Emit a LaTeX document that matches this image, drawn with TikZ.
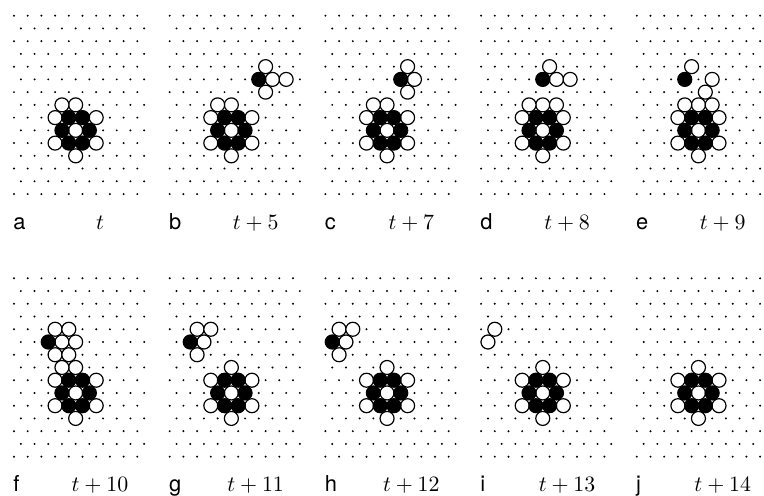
\documentclass[tikz,border=0pt]{standalone}
\usepackage{fontspec}
\newfontfamily\tagfont{TeX Gyre Heros}
\tikzset{
  cell/.style={x=3.425pt,y=-6.37pt},
  wht/.style={draw,fill=white,line width=0.6pt},
  blk/.style={draw,fill=black,line width=0.6pt},
  tag/.style={inner sep=0pt,anchor=base west,font=\fontsize{10.95}{13}\selectfont\tagfont},
  tm/.style={inner sep=0pt,anchor=base,font=\fontsize{10.95}{13}\selectfont}
}
\newcommand{\wc}[1]{\foreach \p in {#1}{\draw[wht] \p circle[radius=3.5pt];}}
\newcommand{\bc}[1]{\foreach \p in {#1}{\draw[blk] \p circle[radius=3.5pt];}}
\newcommand{\lattice}{%
  \foreach \r in {1,3,...,15}{\foreach \k in {0,2,...,18}{\fill (\k,\r) circle[radius=0.55pt];}}%
  \foreach \r in {2,4,...,14}{\foreach \k in {1,3,...,19}{\fill (\k,\r) circle[radius=0.55pt];}}%
  \wc{(9,10),(9,8),(6,9),(12,9),(6,11),(12,11),(9,12)}%
  \bc{(8,9),(10,9),(7,10),(11,10),(8,11),(10,11)}%
}

\begin{document}
\begin{tikzpicture}
    \useasboundingbox (0,0) rectangle (382pt,-248pt);
    \begin{scope}[xshift=7pt,yshift=-1.48pt,cell]
      \lattice
      \wc{(7,8)}
      \node[tag] (la) at (-0.15,17.77) {a};
      \node[tm] (ta) at (12.55,17.77) {$t$};
    \end{scope}
    \begin{scope}[xshift=84.85pt,yshift=-1.48pt,cell]
      \lattice
      \wc{(7,8),(14,5),(15,6),(17,6),(14,7)}
      \bc{(13,6)}
      \node[tag] (lb) at (-0.15,17.77) {b};
      \node[tm] (tb) at (12.55,17.77) {$t+5$};
    \end{scope}
    \begin{scope}[xshift=162.7pt,yshift=-1.48pt,cell]
      \lattice
      \wc{(7,8),(12,5),(13,6),(12,7)}
      \bc{(11,6)}
      \node[tag] (lc) at (-0.15,17.77) {c};
      \node[tm] (tc) at (12.55,17.77) {$t+7$};
    \end{scope}
    \begin{scope}[xshift=240.55pt,yshift=-1.48pt,cell]
      \lattice
      \wc{(7,8),(11,8),(10,5),(11,6),(13,6)}
      \bc{(9,6)}
      \node[tag] (ld) at (-0.15,17.77) {d};
      \node[tm] (td) at (12.55,17.77) {$t+8$};
    \end{scope}
    \begin{scope}[xshift=318.4pt,yshift=-1.48pt,cell]
      \lattice
      \wc{(7,8),(11,8),(8,5),(11,6),(10,7)}
      \bc{(7,6)}
      \node[tag] (le) at (-0.15,17.77) {e};
      \node[tm] (te) at (12.55,17.77) {$t+9$};
    \end{scope}
    \begin{scope}[xshift=7pt,yshift=-132.78pt,cell]
      \lattice
      \wc{(7,8),(6,5),(8,5),(7,6),(9,6),(6,7),(8,7)}
      \bc{(5,6)}
      \node[tag] (lf) at (-0.15,17.77) {f};
      \node[tm] (tf) at (12.55,17.77) {$t+10$};
    \end{scope}
    \begin{scope}[xshift=84.85pt,yshift=-132.78pt,cell]
      \lattice
      \wc{(4,5),(6,5),(5,6),(4,7)}
      \bc{(3,6)}
      \node[tag] (lg) at (-0.15,17.77) {g};
      \node[tm] (tg) at (12.55,17.77) {$t+11$};
    \end{scope}
    \begin{scope}[xshift=162.7pt,yshift=-132.78pt,cell]
      \lattice
      \wc{(2,5),(4,5),(3,6),(2,7)}
      \bc{(1,6)}
      \node[tag] (lh) at (-0.15,17.77) {h};
      \node[tm] (th) at (12.55,17.77) {$t+12$};
    \end{scope}
    \begin{scope}[xshift=240.55pt,yshift=-132.78pt,cell]
      \lattice
      \wc{(2,5),(1,6)}
      \node[tag] (li) at (-0.15,17.77) {i};
      \node[tm] (ti) at (12.55,17.77) {$t+13$};
    \end{scope}
    \begin{scope}[xshift=318.4pt,yshift=-132.78pt,cell]
      \lattice
      \node[tag] (lj) at (-0.15,17.77) {j};
      \node[tm] (tj) at (12.55,17.77) {$t+14$};
    \end{scope}
\end{tikzpicture}
\end{document}
